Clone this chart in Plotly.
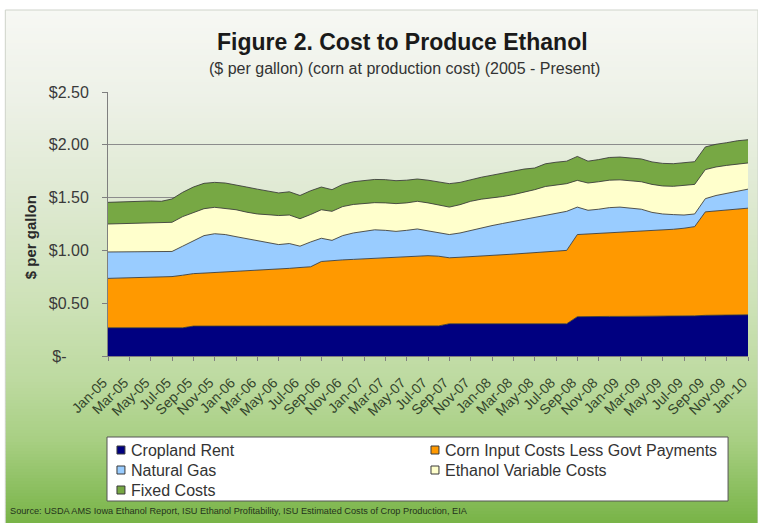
import plotly.graph_objects as go
import pandas as pd

# Monthly categories, Jan-05 .. Jan-10
months = pd.date_range("2005-01-01", periods=61, freq="MS").strftime("%b-%y").tolist()

# Cost components, $ per gallon
cropland_rent = [
    0.267, 0.267, 0.267, 0.267, 0.267, 0.267, 0.267, 0.267, 0.283, 0.283,
    0.283, 0.283, 0.283, 0.283, 0.283, 0.283, 0.283, 0.283, 0.283, 0.283,
    0.285, 0.285, 0.285, 0.285, 0.285, 0.285, 0.285, 0.285, 0.285, 0.285,
    0.285, 0.285, 0.305, 0.305, 0.305, 0.305, 0.305, 0.305, 0.305, 0.305,
    0.305, 0.305, 0.305, 0.305, 0.372, 0.375, 0.375, 0.375, 0.375, 0.375,
    0.375, 0.380, 0.380, 0.380, 0.380, 0.380, 0.385, 0.387, 0.388, 0.390, 0.390,
]
corn_input = [
    0.468, 0.471, 0.473, 0.475, 0.478, 0.481, 0.485, 0.498, 0.497, 0.502,
    0.507, 0.512, 0.517, 0.522, 0.527, 0.532, 0.537, 0.547, 0.555, 0.562,
    0.610, 0.620, 0.625, 0.630, 0.635, 0.640, 0.645, 0.650, 0.655, 0.660,
    0.665, 0.660, 0.625, 0.630, 0.635, 0.640, 0.645, 0.652, 0.660, 0.667,
    0.675, 0.680, 0.685, 0.695, 0.778, 0.780, 0.785, 0.790, 0.795, 0.800,
    0.805, 0.810, 0.815, 0.820, 0.830, 0.845, 0.980, 0.988, 0.997, 1.003, 1.010,
]
natural_gas = [
    0.250, 0.247, 0.243, 0.243, 0.240, 0.240, 0.238, 0.275, 0.310, 0.355,
    0.368, 0.355, 0.330, 0.305, 0.280, 0.260, 0.235, 0.235, 0.202, 0.235,
    0.220, 0.190, 0.230, 0.250, 0.260, 0.270, 0.260, 0.245, 0.250, 0.258,
    0.235, 0.220, 0.220, 0.230, 0.250, 0.270, 0.285, 0.298, 0.310, 0.323,
    0.330, 0.350, 0.360, 0.370, 0.260, 0.225, 0.230, 0.240, 0.240, 0.225,
    0.210, 0.170, 0.150, 0.139, 0.125, 0.120, 0.125, 0.145, 0.155, 0.167, 0.180,
]
ethanol_variable = [
    0.265, 0.267, 0.272, 0.273, 0.275, 0.274, 0.276, 0.280, 0.270, 0.255,
    0.250, 0.250, 0.255, 0.252, 0.255, 0.263, 0.275, 0.270, 0.260, 0.260,
    0.270, 0.275, 0.275, 0.270, 0.263, 0.257, 0.260, 0.263, 0.260, 0.262,
    0.265, 0.265, 0.260, 0.268, 0.275, 0.270, 0.262, 0.255, 0.253, 0.255,
    0.265, 0.270, 0.270, 0.262, 0.253, 0.258, 0.260, 0.260, 0.258, 0.260,
    0.260, 0.265, 0.265, 0.268, 0.280, 0.280, 0.275, 0.270, 0.265, 0.255, 0.248,
]
fixed_costs = [
    0.205, 0.208, 0.210, 0.212, 0.208, 0.203, 0.221, 0.230, 0.240, 0.240,
    0.236, 0.238, 0.237, 0.238, 0.235, 0.227, 0.214, 0.220, 0.220, 0.225,
    0.215, 0.205, 0.210, 0.215, 0.220, 0.220, 0.220, 0.217, 0.215, 0.211,
    0.215, 0.220, 0.222, 0.211, 0.207, 0.208, 0.215, 0.220, 0.221, 0.220,
    0.205, 0.215, 0.215, 0.213, 0.227, 0.207, 0.210, 0.215, 0.216, 0.215,
    0.216, 0.213, 0.214, 0.214, 0.215, 0.215, 0.215, 0.215, 0.215, 0.223, 0.220,
]

series_names = [
    "Cropland Rent",
    "Corn Input Costs Less Govt Payments",
    "Natural Gas",
    "Ethanol Variable Costs",
    "Fixed Costs",
]
series_values = [cropland_rent, corn_input, natural_gas, ethanol_variable, fixed_costs]
series_colors = ["#000080", "#FF9900", "#99CCFF", "#FFFFCC", "#77A844"]

y_ticks = [0, 0.5, 1.0, 1.5, 2.0, 2.5]
y_ticktext = ["$-\u00a0\u00a0\u00a0\u00a0\u00a0", "$0.50", "$1.00", "$1.50", "$2.00", "$2.50"]

W, H = 758, 523
ML, MR, MT, MB = 108, 8, 92, 167
PW, PH = W - ML - MR, H - MT - MB


def px(x):
    return (x - ML) / PW


def py(y):
    return (H - MB - y) / PH


fig = go.Figure()
for name, vals, col in zip(series_names, series_values, series_colors):
    fig.add_trace(go.Scatter(
        x=months, y=vals, name=name, mode="lines",
        stackgroup="costs", fillcolor=col,
        line=dict(color="rgba(55,55,55,0.85)", width=1),
        showlegend=False,
    ))

# Panel background: vertical gradient from near-white to green
stops = [(10, (247, 248, 244)), (100, (237, 241, 231)), (200, (222, 233, 209)),
         (300, (206, 226, 184)), (380, (189, 218, 160)), (440, (168, 207, 131)),
         (523, (120, 180, 71))]


def grad(y):
    for (y0, c0), (y1, c1) in zip(stops[:-1], stops[1:]):
        if y0 <= y <= y1:
            t = (y - y0) / (y1 - y0)
            return "rgb(%d,%d,%d)" % tuple(round(a + (b - a) * t) for a, b in zip(c0, c1))
    return "rgb(%d,%d,%d)" % stops[-1][1]


shapes = []
step = 3
for y in range(10, H, step):
    shapes.append(dict(type="rect", xref="paper", yref="paper", layer="below",
                       x0=px(5), x1=px(W + 2), y0=py(y + step + 0.5), y1=py(y),
                       fillcolor=grad(y + step / 2), line=dict(width=0)))
shapes.append(dict(type="rect", xref="paper", yref="paper", layer="below",
                   x0=px(5), x1=px(W + 2), y0=py(H + 2), y1=py(10),
                   fillcolor="rgba(0,0,0,0)", line=dict(color="#cfd3ca", width=1)))

# Legend box
shapes.append(dict(type="rect", xref="paper", yref="paper",
                   x0=px(107), x1=px(730), y0=py(501), y1=py(437),
                   fillcolor="white", line=dict(color="#555555", width=1)))

annotations = []
legend_pos = [(117, 450), (432, 450), (117, 470), (432, 470), (117, 490)]
for (lx, ly), name, col in zip(legend_pos, series_names, series_colors):
    shapes.append(dict(type="rect", xref="paper", yref="paper",
                       x0=px(lx), x1=px(lx + 8), y0=py(ly + 4), y1=py(ly - 4),
                       fillcolor=col, line=dict(color="#3a3a3a", width=1)))
    annotations.append(dict(xref="paper", yref="paper", x=px(lx + 12), y=py(ly),
                            xanchor="left", yanchor="middle", showarrow=False,
                            text=name, font=dict(size=16, color="#333333")))

annotations += [
    dict(xref="paper", yref="paper", x=px(403), y=py(42), xanchor="center", yanchor="middle",
         showarrow=False, text="<b>Figure 2. Cost to Produce Ethanol</b>",
         font=dict(size=23, color="#1a1a1a")),
    dict(xref="paper", yref="paper", x=px(405), y=py(68), xanchor="center", yanchor="middle",
         showarrow=False, text="($ per gallon) (corn at production cost) (2005 - Present)",
         font=dict(size=16, color="#333333")),
    dict(xref="paper", yref="paper", x=px(30), y=py(237), xanchor="center", yanchor="middle",
         showarrow=False, textangle=-90, text="<b>$ per gallon</b>",
         font=dict(size=15, color="#2a2a2a")),
    dict(xref="paper", yref="paper", x=px(8), y=py(511), xanchor="left", yanchor="middle",
         showarrow=False,
         text="Source: USDA AMS Iowa Ethanol Report, ISU Ethanol Profitability, ISU Estimated Costs of Crop Production, EIA",
         font=dict(size=9.2, color="#24331b")),
]

fig.update_layout(
    width=W, height=H,
    margin=dict(l=ML, r=MR, t=MT, b=MB, pad=0),
    paper_bgcolor="white", plot_bgcolor="white",
    font=dict(family="Liberation Sans, Arial, sans-serif", color="#333333"),
    shapes=shapes, annotations=annotations,
    showlegend=False,
)
fig.update_xaxes(
    type="category", range=[0, 60],
    tickmode="linear", tick0=0, dtick=2, tickangle=-45,
    ticks="outside", ticklen=4, tickcolor="#7f7f7f",
    showline=True, linecolor="#7f7f7f", showgrid=False,
    ticklabelstandoff=8, ticklabelshift=-5,
    tickfont=dict(size=14, color="#34452c"),
)
fig.update_yaxes(
    range=[0, 2.5], tickvals=y_ticks, ticktext=y_ticktext,
    ticks="outside", ticklen=5, tickcolor="#7f7f7f",
    showline=True, linecolor="#7f7f7f",
    showgrid=True, gridcolor="#8c8c8c", gridwidth=1,
    zeroline=False, ticklabelstandoff=10,
    tickfont=dict(size=16, color="#3a3a3a"),
)

fig.write_html("out.html")
